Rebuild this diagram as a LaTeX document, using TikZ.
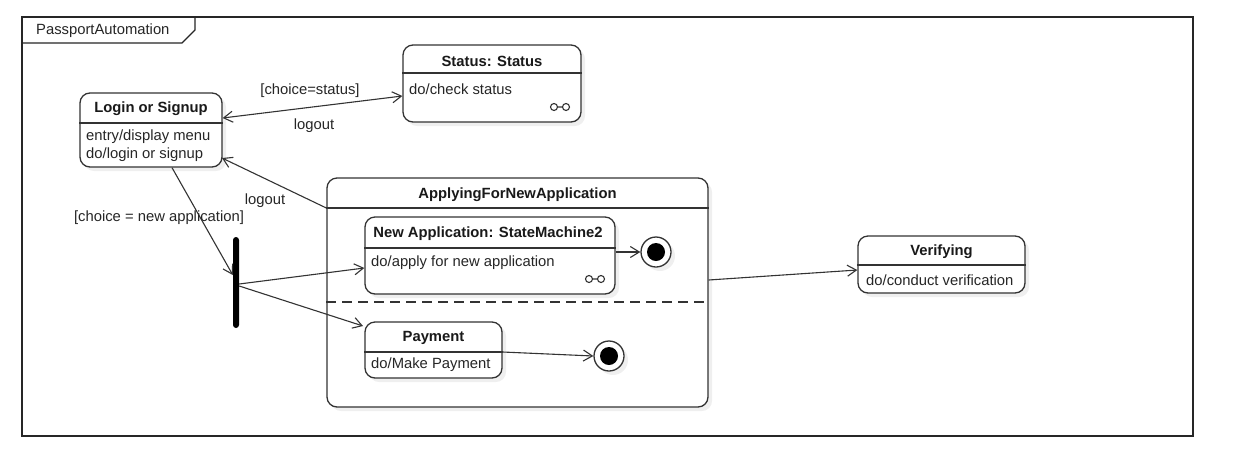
\documentclass[tikz,border=0pt]{standalone}
\usepackage{fontspec}
\setmainfont{Liberation Sans}
\usetikzlibrary{arrows.meta,shadows}
\newcommand\dgfs{\fontsize{14.8}{17}\selectfont}
\begin{document}
\begin{tikzpicture}[x=1pt,y=-1pt,
  box/.style={draw=black!80, line width=1.3pt, rounded corners=10pt, fill=white,
    drop shadow={opacity=0.12, shadow xshift=4pt, shadow yshift=-4pt}, inner sep=0pt},
  div/.style={draw=black!80, line width=1.3pt},
  tr/.style={draw=black!80, line width=1.1pt, -{Straight Barb[length=9pt,width=11pt,line width=1.1pt]}},
  ttl/.style={font=\dgfs\bfseries, inner sep=0pt, text=black!90},
  txt/.style={font=\dgfs, anchor=west, inner sep=0pt, text=black!85},
  lbl/.style={font=\dgfs, inner sep=1pt, text=black!85},
  fin/.style={circle, draw=black!80, line width=1.3pt, minimum size=30pt, inner sep=0pt, fill=white,
    drop shadow={opacity=0.12, shadow xshift=4pt, shadow yshift=-4pt}},
  subm/.pic={\draw[line width=1.1pt, black!80] (-6,0) circle (3.5pt) (-2.5,0) -- (2.5,0) (6,0) circle (3.5pt);}
]
\fill[white] (0,0) rectangle (1248,459);
\useasboundingbox (0,0) rectangle (1248,459);

% frame
\draw[line width=1.5pt, black!85] (22,17) rectangle (1193,436);
\draw[line width=1.3pt, black!85] (22,43) -- (182,43) -- (195,30) -- (195,17);
\node[lbl, anchor=west, inner sep=0pt] (frametitle) at (36,31) {PassportAutomation};

% Login
\node[box, minimum width=142pt, minimum height=74pt] (login) at (151,130) {};
\draw[div] (login.west |- 0,123) -- (login.east |- 0,123);
\node[ttl] (logint) at (151,109) {Login or Signup};
\node[txt] (logina) at (86,137) {entry/display menu};
\node[txt] (loginb) at (86,155) {do/login or signup};

% Status
\node[box, minimum width=178pt, minimum height=77pt] (status) at (492,83.5) {};
\draw[div] (status.west |- 0,73) -- (status.east |- 0,73);
\node[ttl] (statust) at (492,61) {Status: Status};
\node[txt] (statusa) at (409,89) {do/check status};
\pic at (560,107) {subm};

% Applying composite
\node[box, minimum width=381pt, minimum height=229pt] (apply) at (517.5,292.5) {};
\draw[div] (apply.west |- 0,208) -- (apply.east |- 0,208);
\draw[div, dash pattern=on 10pt off 6pt] (apply.west |- 0,302) -- (apply.east |- 0,302);
\node[ttl] (applyt) at (517.5,195) {ApplyingForNewApplication};

% New Application
\node[box, minimum width=250pt, minimum height=77pt] (newapp) at (490,255.5) {};
\draw[div] (newapp.west |- 0,248) -- (newapp.east |- 0,248);
\node[ttl] (newappt) at (488,234) {New Application: StateMachine2};
\node[txt] (newappa) at (371,263) {do/apply for new application};
\pic at (595,279) {subm};

% Payment
\node[box, minimum width=137pt, minimum height=56pt] (pay) at (433.5,350) {};
\draw[div] (pay.west |- 0,352) -- (pay.east |- 0,352);
\node[ttl] (payt) at (433.5,338) {Payment};
\node[txt] (paya) at (371,365) {do/Make Payment};

% Final states
\node[fin] (f1) at (656,252) {};
\fill[black] (f1) circle (9pt);
\node[fin] (f2) at (609,356) {};
\fill[black] (f2) circle (9pt);

% Verifying
\node[box, minimum width=167pt, minimum height=57pt] (ver) at (941.5,264.5) {};
\draw[div] (ver.west |- 0,265) -- (ver.east |- 0,265);
\node[ttl] (vert) at (941.5,252) {Verifying};
\node[txt] (vera) at (866,280) {do/conduct verification};

% Fork bar
\node[fill=black, minimum width=6pt, minimum height=91pt, inner sep=0pt, rounded corners=3pt] (fork) at (236,282.5) {};

% transitions
\draw[tr, {Straight Barb[length=9pt,width=11pt,line width=1.1pt]}-{Straight Barb[length=9pt,width=11pt,line width=1.1pt]}]
  (login.east |- 0,118) -- (status.west |- 0,96);
\node[lbl] (l1) at (310,91) {[choice=status]};
\node[lbl] (l2) at (314,126) {logout};

\draw[tr] (apply.west |- 0,208) -- (222,158);
\node[lbl] (l3) at (265,201) {logout};

\draw[tr] (login.south -| 172,0) -- (fork.west |- 0,275);
\node[lbl] (l4) at (159,218) {[choice = new application]};

\draw[tr] (fork.east |- 0,284) -- (newapp.west |- 0,268);
\draw[tr] (fork.east |- 0,286) -- (363,326);

\draw[tr] (newapp.east |- 0,252) -- (f1.west);
\draw[tr] (pay.east |- 0,352) -- (f2.west);

\draw[tr] (apply.east |- 0,280) -- (ver.west |- 0,270);
\end{tikzpicture}
\end{document}
